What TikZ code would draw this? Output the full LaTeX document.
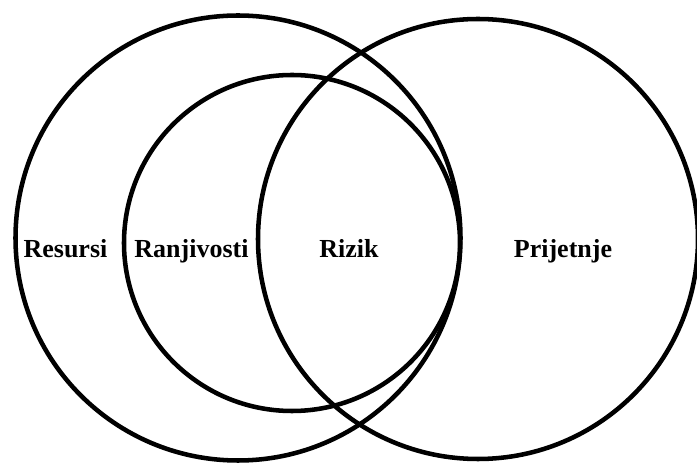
\documentclass[tikz,border=0pt]{standalone}
\usepackage{fontspec}
\setmainfont{Liberation Serif}
\usepackage{tikz}
\usetikzlibrary{positioning}

\begin{document}
\begin{tikzpicture}[x=0.75pt,y=0.75pt,
  ring/.style={circle,draw=black,line width=3.4pt,inner sep=0pt},
  lbl/.style={font=\fontsize{19.5}{23}\bfseries\selectfont,anchor=base,inner sep=0pt}]

\useasboundingbox (0,0) rectangle (697,464);

% the three sets
\node[ring,minimum size=333.75pt] (resursi) at (238,226) {};
\node[ring,minimum size=252pt] (ranjiv) at (292,221) {};
\node[ring,minimum size=330pt] (prijet) at (478,225) {};

% labels
\node[lbl] (lres) at (65.5,206) {Resursi};
\node[lbl] (lranj) at (191.5,206) {Ranjivosti};
\node[lbl] (lriz) at (349,206) {Rizik};
\node[lbl] (lprij) at (563,206) {Prijetnje};
\end{tikzpicture}
\end{document}
